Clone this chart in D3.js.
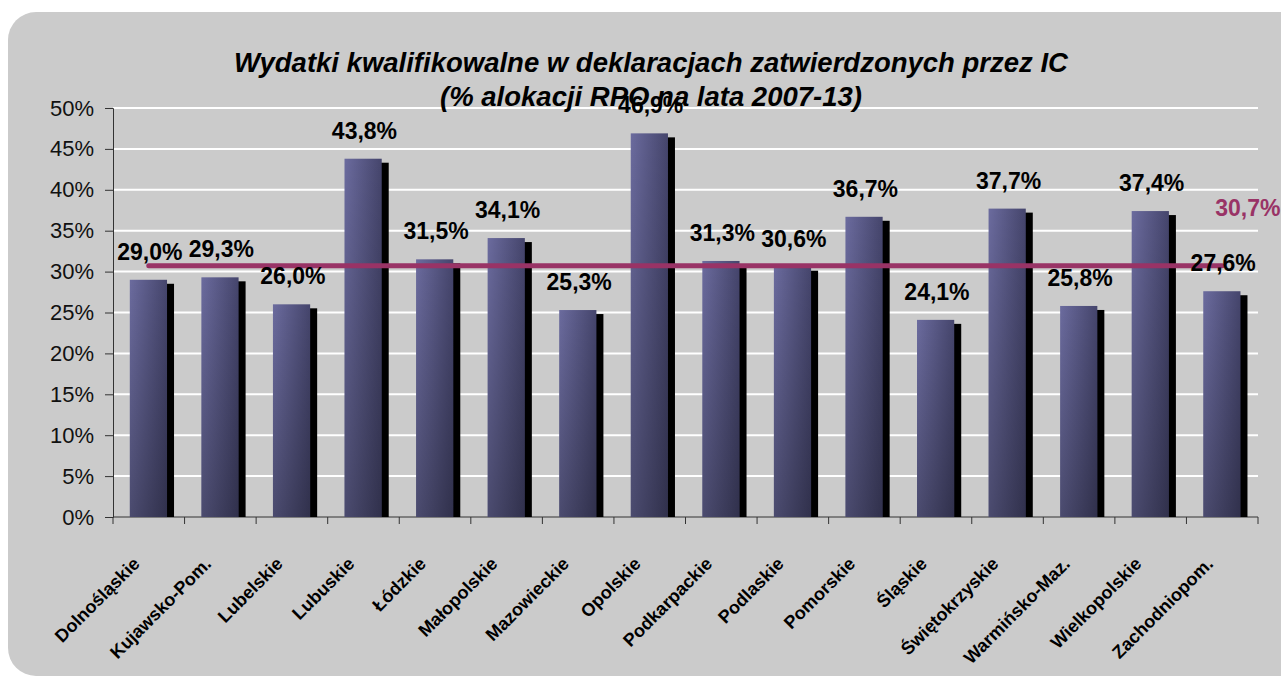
<!DOCTYPE html>
<html>
<head>
<meta charset="utf-8">
<script src="https://cdn.jsdelivr.net/npm/d3@7"></script>
<style>
    body { margin: 0; background: #fff; }
    text { font-family: "Liberation Sans", Arial, sans-serif; }
</style>
</head>
<body>
<div id="chart"></div>
<script>
// data
const regions = ["Dolnośląskie", "Kujawsko-Pom.", "Lubelskie", "Lubuskie", "Łódzkie", "Małopolskie",
    "Mazowieckie", "Opolskie", "Podkarpackie", "Podlaskie", "Pomorskie", "Śląskie",
    "Świętokrzyskie", "Warmińsko-Maz.", "Wielkopolskie", "Zachodniopom."];
const shares = [29.0, 29.3, 26.0, 43.8, 31.5, 34.1, 25.3, 46.9, 31.3, 30.6, 36.7, 24.1, 37.7, 25.8, 37.4, 27.6];
const average = 30.7;
const yTicks = [0, 5, 10, 15, 20, 25, 30, 35, 40, 45, 50];
const titleLines = ["Wydatki kwalifikowalne w deklaracjach zatwierdzonych przez IC", "(% alokacji RPO na lata 2007-13)"];

(function() {
    let width = 1281, height = 684;
    const left = 113, right = 1258, top = 108, bottom = 517;
    const fmt = v => v.toFixed(1).replace(".", ",") + "%";

    const svg = d3.select("#chart")
        .append("svg")
        .attr("width", width)
        .attr("height", height);

    const defs = svg.append("defs");
    const barGrad = defs.append("linearGradient")
        .attr("id", "barGrad")
        .attr("x1", 0).attr("y1", 0).attr("x2", 1).attr("y2", 0);
    barGrad.append("stop").attr("offset", "0%").attr("stop-color", "#6b6b9e");
    barGrad.append("stop").attr("offset", "100%").attr("stop-color", "#45456c");

    const shade = defs.append("linearGradient")
        .attr("id", "shade")
        .attr("x1", 0).attr("y1", 0).attr("x2", 0).attr("y2", 1);
    shade.append("stop").attr("offset", "0%").attr("stop-color", "#000").attr("stop-opacity", 0);
    shade.append("stop").attr("offset", "100%").attr("stop-color", "#000").attr("stop-opacity", 0.3);

    // grey panel with rounded corners
    svg.append("rect")
        .attr("x", 8)
        .attr("y", 12)
        .attr("width", 1320)
        .attr("height", 664)
        .attr("rx", 28)
        .attr("fill", "#cbcbcb");

    const x = d3.scaleBand()
        .domain(regions)
        .range([left, right])
        .padding(0);

    const y = d3.scaleLinear()
        .domain([0, 50])
        .range([bottom, top]);

    // gridlines
    svg.append("g")
        .selectAll("line")
        .data(yTicks.slice(1))
        .join("line")
        .attr("x1", left)
        .attr("x2", right)
        .attr("y1", d => y(d))
        .attr("y2", d => y(d))
        .attr("stroke", "#fff")
        .attr("stroke-width", 2);

    // y axis
    const yAxis = svg.append("g")
        .attr("transform", `translate(${left},0)`)
        .call(d3.axisLeft(y).tickValues(yTicks).tickSize(8).tickPadding(11).tickFormat(d => d + "%"));
    yAxis.select(".domain").attr("stroke", "#333");
    yAxis.selectAll(".tick line").attr("stroke", "#333");
    yAxis.selectAll("text")
        .attr("font-size", "22px")
        .attr("font-family", "Liberation Sans, Arial, sans-serif")
        .attr("fill", "#111");

    // x axis with ticks on category boundaries
    svg.append("line")
        .attr("x1", left).attr("x2", right)
        .attr("y1", bottom).attr("y2", bottom)
        .attr("stroke", "#333");
    svg.append("g")
        .selectAll("line")
        .data(regions.concat([null]))
        .join("line")
        .attr("x1", (d, i) => left + i * x.step())
        .attr("x2", (d, i) => left + i * x.step())
        .attr("y1", bottom)
        .attr("y2", bottom + 7)
        .attr("stroke", "#333");

    const bw = x.bandwidth();
    const barX = d => x(d) + bw * 0.235;
    const barW = bw * 0.52;
    const data = regions.map((r, i) => ({ region: r, value: shares[i] }));

    // black side shadow
    svg.append("g")
        .selectAll("rect")
        .data(data)
        .join("rect")
        .attr("x", d => barX(d.region) + 7)
        .attr("y", d => y(d.value) + 4)
        .attr("width", barW)
        .attr("height", d => bottom - y(d.value) - 4)
        .attr("fill", "#000");

    svg.append("g")
        .selectAll("rect")
        .data(data)
        .join("rect")
        .attr("x", d => barX(d.region))
        .attr("y", d => y(d.value))
        .attr("width", barW)
        .attr("height", d => bottom - y(d.value))
        .attr("fill", "url(#barGrad)");

    svg.append("g")
        .selectAll("rect")
        .data(data)
        .join("rect")
        .attr("x", d => barX(d.region))
        .attr("y", d => y(d.value))
        .attr("width", barW)
        .attr("height", d => bottom - y(d.value))
        .attr("fill", "url(#shade)");

    // average line
    svg.append("path")
        .datum(regions)
        .attr("d", d3.line().x(d => x(d) + bw / 2).y(() => y(average)))
        .attr("stroke", "#993366")
        .attr("stroke-width", 5)
        .attr("stroke-linecap", "round")
        .attr("fill", "none");

    // value labels
    svg.append("g")
        .selectAll("text")
        .data(data)
        .join("text")
        .attr("x", d => x(d.region) + bw / 2 + 1)
        .attr("y", d => y(d.value) - 20)
        .attr("text-anchor", "middle")
        .attr("font-size", "23px")
        .attr("font-weight", "bold")
        .attr("fill", "#000")
        .text(d => fmt(d.value));

    svg.append("text")
        .attr("x", x(regions[regions.length - 1]) + bw / 2 - 7)
        .attr("y", y(average) - 50)
        .attr("font-size", "23px")
        .attr("font-weight", "bold")
        .attr("fill", "#993366")
        .text(fmt(average));

    // category labels, rotated
    svg.append("g")
        .selectAll("text")
        .data(regions)
        .join("text")
        .attr("transform", d => `translate(${x(d) + bw / 2 - 8},${bottom + 48}) rotate(-45)`)
        .attr("text-anchor", "end")
        .attr("font-size", "18px")
        .attr("font-weight", "bold")
        .attr("fill", "#000")
        .text(d => d);

    // title
    svg.append("g")
        .selectAll("text")
        .data(titleLines)
        .join("text")
        .attr("x", 651)
        .attr("y", (d, i) => 72 + i * 34)
        .attr("text-anchor", "middle")
        .attr("font-size", "27.5px")
        .attr("font-weight", "bold")
        .attr("font-style", "italic")
        .attr("fill", "#000")
        .text(d => d);
})();
</script>
</body>
</html>
